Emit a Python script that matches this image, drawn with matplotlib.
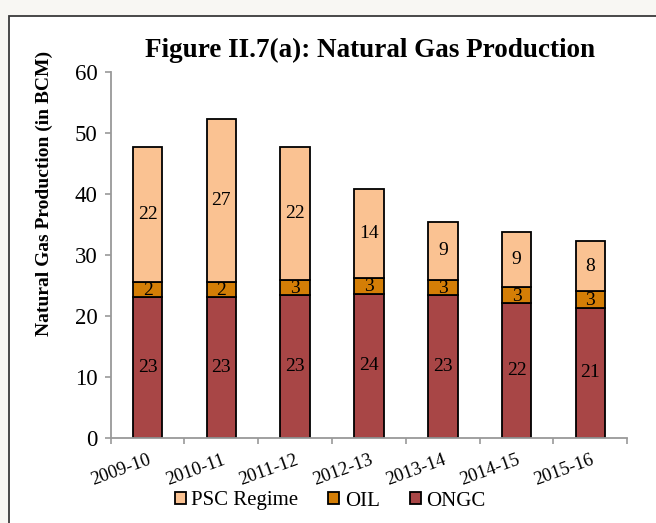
import matplotlib

matplotlib.use("Agg")
import matplotlib.pyplot as plt
from matplotlib.patches import Rectangle
import numpy as np

years = ["2009-10", "2010-11", "2011-12", "2012-13", "2013-14", "2014-15", "2015-16"]
ongc = [23.1, 23.1, 23.3, 23.6, 23.3, 22.0, 21.2]
oil = [2.4, 2.4, 2.6, 2.6, 2.6, 2.7, 2.8]
psc = [22.1, 26.7, 21.7, 14.5, 9.4, 9.0, 8.2]

ongc_labels = ["23", "23", "23", "24", "23", "22", "21"]
oil_labels = ["2", "2", "3", "3", "3", "3", "3"]
psc_labels = ["22", "27", "22", "14", "9", "9", "8"]

C_ONGC = "#A84646"
C_OIL = "#D47E06"
C_PSC = "#FAC292"
C_AXIS = "#999999"

plt.rcParams["font.family"] = ["Liberation Serif", "DejaVu Serif"]

fig = plt.figure(figsize=(6.56, 5.23), dpi=100, facecolor="#F8F7F3")
# white panel with a dark border, cut off at right and bottom
fig.patches.append(Rectangle((9 / 656, -0.05), 1.1, 1.05 - 16 / 523,
                             transform=fig.transFigure, facecolor="white",
                             edgecolor="#3a3a3a", linewidth=1.3, zorder=-5))

ax = fig.add_axes([110.7 / 656, 1 - 437.5 / 523, (627.3 - 110.7) / 656, (437.5 - 71.7) / 523])
ax.set_facecolor("none")

x = np.arange(len(years))
w = 0.40
ongc_a = np.array(ongc)
oil_a = np.array(oil)
psc_a = np.array(psc)
b1 = ax.bar(x, ongc_a, w, color=C_ONGC, edgecolor="black", linewidth=1.3, label="ONGC")
b2 = ax.bar(x, oil_a, w, bottom=ongc_a, color=C_OIL, edgecolor="black", linewidth=1.3, label="OIL")
b3 = ax.bar(x, psc_a, w, bottom=ongc_a + oil_a, color=C_PSC, edgecolor="black", linewidth=1.3,
            label="PSC Regime")

for i in range(len(years)):
    ax.text(x[i], ongc_a[i] / 2, ongc_labels[i], ha="center", va="center", fontsize=14)
    ax.text(x[i], ongc_a[i] + oil_a[i] / 2 - 0.15, oil_labels[i], ha="center", va="center", fontsize=14)
    ax.text(x[i], ongc_a[i] + oil_a[i] + psc_a[i] / 2, psc_labels[i], ha="center", va="center",
            fontsize=14)

ax.set_xlim(-0.5, len(years) - 0.5)
ax.set_ylim(0, 60)
ax.set_yticks(range(0, 61, 10))
ax.set_xticks(x)
ax.set_xticklabels(years, rotation=20, ha="right", rotation_mode="anchor", fontsize=13.5)
ax.set_xticks(np.arange(-0.5, len(years), 1), minor=True)
ax.tick_params(axis="x", which="major", length=0, pad=10)
ax.tick_params(axis="x", which="minor", length=4.5, width=1.2, color=C_AXIS, direction="out")
ax.tick_params(axis="y", length=4.5, width=1.2, color=C_AXIS, labelsize=16.5, pad=5)
for s in ("top", "right"):
    ax.spines[s].set_visible(False)
for s in ("left", "bottom"):
    ax.spines[s].set_color(C_AXIS)
    ax.spines[s].set_linewidth(1.3)

fig.text(370 / 656, 1 - 50 / 523, "Figure II.7(a): Natural Gas Production", ha="center", va="center",
         fontsize=19.5, fontweight="bold")
fig.text(44 / 656, 1 - 193 / 523, "Natural Gas Production (in BCM)", ha="center", va="center",
         rotation=90, fontsize=14, fontweight="bold")

ax.legend(handles=[b3, b2, b1], loc="center", bbox_to_anchor=(330 / 656, 1 - 501 / 523),
          bbox_transform=fig.transFigure, ncol=3, frameon=False, fontsize=15,
          handlelength=0.53, handleheight=0.53, handletextpad=0.25, columnspacing=1.45,
          borderpad=0, borderaxespad=0)

fig.savefig("out.png", dpi=100, facecolor=fig.get_facecolor())
